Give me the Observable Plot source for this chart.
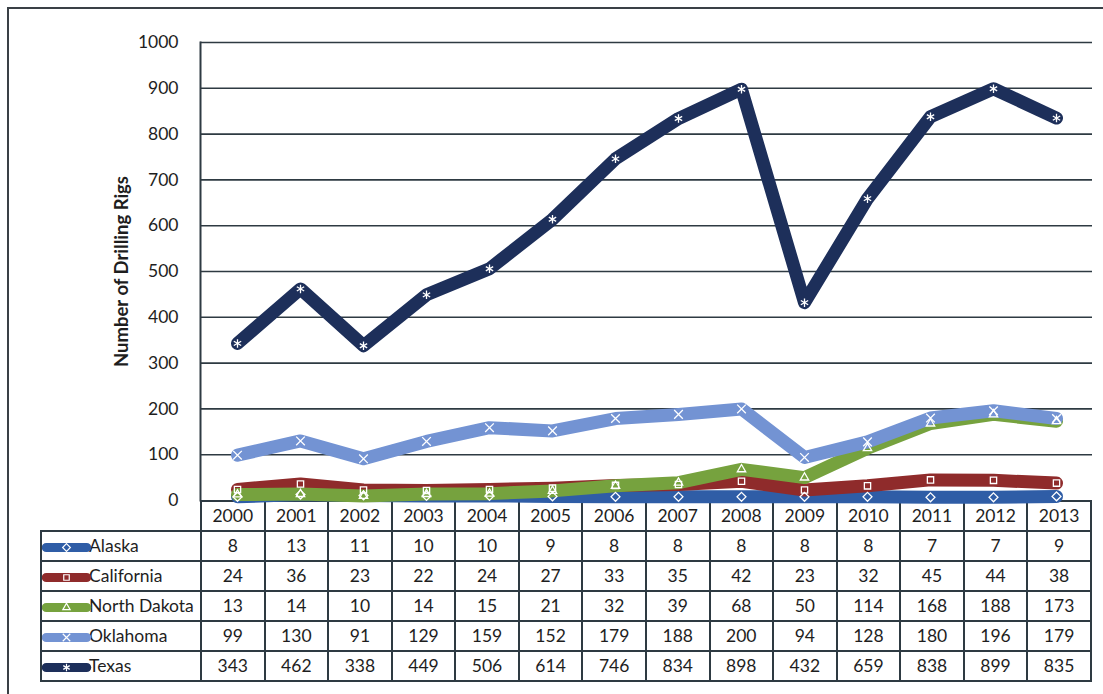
<!DOCTYPE html>
<html><head><meta charset="utf-8">
<script src="https://cdn.jsdelivr.net/npm/d3@7"></script>
<script src="https://cdn.jsdelivr.net/npm/@observablehq/plot@0.6"></script>
<style>
body{margin:0;background:#fff;font-family:Lato,"Open Sans",sans-serif;color:#1e1e1e;}
#wrap{position:relative;width:1103px;height:694px;overflow:hidden;background:#fff;}
#frame{position:absolute;left:7px;top:7px;width:1110px;height:700px;border:2px solid #3a4046;box-sizing:border-box;}
#tbl{position:absolute;left:40px;top:500px;border-collapse:collapse;table-layout:fixed;width:1050px;font-size:17.5px;}
#tbl td{border:2px solid #2e3a42;padding:0;text-align:center;height:28px;line-height:28px;white-space:nowrap;overflow:hidden;}
#tbl td.lab{text-align:left;padding-left:1px;}
#tbl td.corner{border-top:none;border-left:none;}
#tbl svg{vertical-align:middle;position:relative;top:-1px;}
#chart{position:absolute;left:0;top:0;}
</style></head>
<body><div id="wrap"><div id="frame"></div><table id="tbl"></table><div id="chart"></div></div>
<script>
const years = [2000,2001,2002,2003,2004,2005,2006,2007,2008,2009,2010,2011,2012,2013];
const seriesNames = ["Alaska","California","North Dakota","Oklahoma","Texas"];
const alaska      = [8,13,11,10,10,9,8,8,8,8,8,7,7,9];
const california  = [24,36,23,22,24,27,33,35,42,23,32,45,44,38];
const northDakota = [13,14,10,14,15,21,32,39,68,50,114,168,188,173];
const oklahoma    = [99,130,91,129,159,152,179,188,200,94,128,180,196,179];
const texas       = [343,462,338,449,506,614,746,834,898,432,659,838,899,835];
const yTicks = [0,100,200,300,400,500,600,700,800,900,1000];
const colors = ["#2f5da6","#8f2b2b","#76a23e","#7393d3","#1d2f5a"];
const symbols = ["diamond2","square2","triangle2","times","asterisk"];
const yLabel = "Number of Drilling Rigs";

const values = [alaska, california, northDakota, oklahoma, texas];
const data = [];
seriesNames.forEach((s, i) => years.forEach((y, j) => data.push({series: s, year: y, value: values[i][j]})));

const chart = Plot.plot({
  width: 1103, height: 501,
  marginTop: 42, marginBottom: 1, marginLeft: 200, marginRight: 11,
  style: {background: "transparent", overflow: "visible", fontFamily: "Lato, 'Open Sans', sans-serif"},
  x: {type: "point", domain: years, padding: 0.5, axis: null},
  y: {domain: [0, 1000], axis: null},
  color: {domain: seriesNames, range: colors},
  symbol: {domain: seriesNames, range: symbols},
  marks: [
    Plot.gridY(yTicks.slice(1), {stroke: "#2e3a42", strokeOpacity: 1, strokeWidth: 1.6}),
    Plot.axisY({ticks: yTicks, tickSize: 0, tickPadding: 22, fontSize: 17.5, label: null, color: "#1e1e1e", tickFormat: d => String(d)}),
    Plot.frame({anchor: "left", stroke: "#2e3a42", strokeWidth: 2}),
    Plot.text([yLabel], {frameAnchor: "left", textAnchor: "middle", rotate: -90, dx: -78, fontWeight: "bold", fontSize: 18.5, fill: "#1e1e1e"}),
    Plot.line(data, {x: "year", y: "value", z: "series", stroke: "series", strokeWidth: 13, strokeLinejoin: "round", strokeLinecap: "round"}),
    Plot.dot(data, {x: "year", y: "value", symbol: "series", stroke: "white", r: 4, strokeWidth: 1.3})
  ]
});
document.getElementById("chart").appendChild(chart);

// data table with legend keys
const tbl = d3.select("#tbl");
const cg = tbl.append("colgroup");
cg.append("col").style("width", "160px");
years.forEach(() => cg.append("col").style("width", (890/14) + "px"));
const hr = tbl.append("tr");
hr.append("td").attr("class", "corner");
years.forEach(y => hr.append("td").text(y));
seriesNames.forEach((s, i) => {
  const tr = tbl.append("tr");
  const lab = tr.append("td").attr("class", "lab");
  const key = Plot.plot({
    width: 46, height: 14, margin: 0,
    x: {domain: [0, 2], axis: null}, y: {domain: [0, 1], axis: null},
    style: {background: "transparent", overflow: "visible", display: "inline-block"},
    marks: [
      Plot.line([[0.12, 0.5], [1.88, 0.5]], {stroke: colors[i], strokeWidth: 9, strokeLinecap: "round"}),
      Plot.dot([[1, 0.5]], {symbol: symbols[i], stroke: "white", r: 3.5, strokeWidth: 1.2})
    ]
  });
  lab.node().appendChild(key);
  lab.append("span").text(s);
  values[i].forEach(v => tr.append("td").text(v));
});
</script></body></html>
